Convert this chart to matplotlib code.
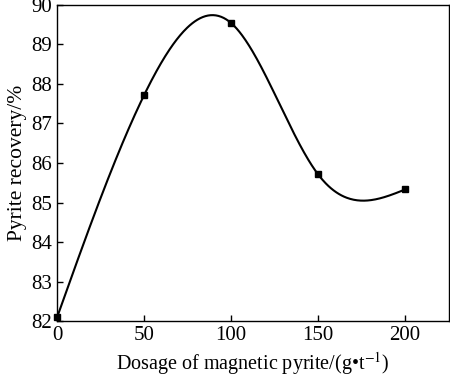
import numpy as np
import matplotlib
matplotlib.use("Agg")
import matplotlib.pyplot as plt

# data
dosage = [0, 50, 100, 150, 200]
recovery = [82.1, 87.72, 89.54, 85.71, 85.33]
x_ticks = [0, 50, 100, 150, 200]
y_ticks = [82, 83, 84, 85, 86, 87, 88, 89, 90]


def natural_spline(x, y, xs):
    x = np.asarray(x, float)
    y = np.asarray(y, float)
    n = len(x)
    h = np.diff(x)
    A = np.zeros((n, n))
    b = np.zeros(n)
    A[0, 0] = A[-1, -1] = 1
    for i in range(1, n - 1):
        A[i, i - 1] = h[i - 1]
        A[i, i] = 2 * (h[i - 1] + h[i])
        A[i, i + 1] = h[i]
        b[i] = 6 * ((y[i + 1] - y[i]) / h[i] - (y[i] - y[i - 1]) / h[i - 1])
    M = np.linalg.solve(A, b)
    idx = np.clip(np.searchsorted(x, xs) - 1, 0, n - 2)
    x0, x1 = x[idx], x[idx + 1]
    hh = x1 - x0
    t0, t1 = x1 - xs, xs - x0
    return (M[idx] * t0**3 / (6 * hh) + M[idx + 1] * t1**3 / (6 * hh)
            + (y[idx] / hh - M[idx] * hh / 6) * t0
            + (y[idx + 1] / hh - M[idx + 1] * hh / 6) * t1)


plt.rcParams["font.family"] = ["Liberation Serif", "DejaVu Serif"]
plt.rcParams["mathtext.fontset"] = "stix"

fig, ax = plt.subplots(figsize=(4.5, 3.76), dpi=100)
fig.subplots_adjust(left=0.127, right=0.997, top=0.987, bottom=0.146)

xs = np.linspace(dosage[0], dosage[-1], 400)
ax.plot(xs, natural_spline(dosage, recovery, xs), color="black", lw=1.5)
ax.plot(dosage, recovery, ls="none", marker="s", ms=5, color="black",
        clip_on=False)

ax.set_xlim(0, 225)
ax.set_ylim(82, 90)
ax.set_xticks(x_ticks)
ax.set_yticks(y_ticks)
ax.tick_params(direction="in", length=4, labelsize=15, width=1)
for s in ax.spines.values():
    s.set_linewidth(1)

ax.set_xlabel("Dosage of magnetic pyrite/(g\u2022t$^{-1}$)", fontsize=14.5,
              labelpad=4)
ax.set_ylabel("Pyrite recovery/%", fontsize=15.5, labelpad=3)

plt.savefig("out.png", dpi=100)
